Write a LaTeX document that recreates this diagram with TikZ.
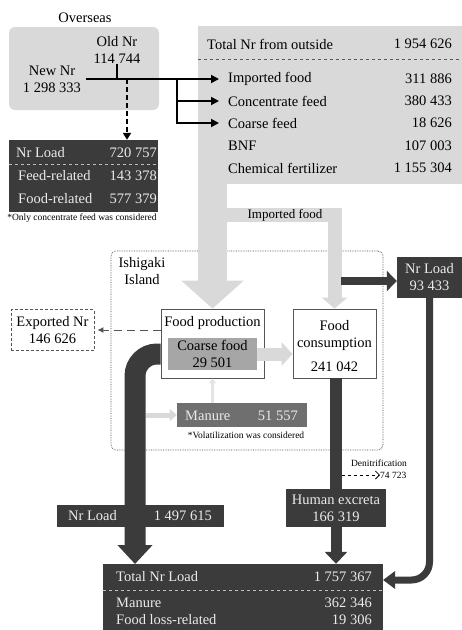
\documentclass[tikz,border=0pt]{standalone}
\usepackage{fontspec}
\setmainfont{Liberation Serif}
\usetikzlibrary{arrows.meta}
\definecolor{boxgray}{HTML}{D9D9D9}
\definecolor{loadgray}{HTML}{3B3B3B}
\definecolor{coarsegray}{HTML}{A6A6A6}
\definecolor{manuregray}{HTML}{6F6F6F}
\definecolor{linegray}{HTML}{555555}
\tikzset{txt/.style = {font=\fontsize{14.5}{17}\selectfont, inner sep=0pt, align=center}}
\tikzset{wtxt/.style = {txt, text=white!92!black}}
\tikzset{note/.style = {font=\fontsize{9.5}{11}\selectfont, inner sep=0pt}}
\tikzset{lbl/.style = {txt, anchor=west}}
\tikzset{val/.style = {txt, anchor=east}}
\tikzset{darkbox/.style = {rectangle, fill=loadgray, inner sep=0pt}}
\tikzset{whitebox/.style = {rectangle, draw=linegray, line width=0.8pt, fill=white, inner sep=0pt}}
\tikzset{divider/.style = {dashed, line width=0.6pt}}
\tikzset{feed/.style = {line width=1.8pt, -{Triangle[length=8pt,width=8pt]}, shorten >=9pt}}
\tikzset{bigflow/.style = {draw=boxgray, line join=miter}}
\tikzset{pipe/.style = {draw=loadgray, line join=miter}}

\begin{document}
\begin{tikzpicture}[x=1pt,y=-1pt]
            \useasboundingbox (0,0) rectangle (462,630);
            \clip (0,0) rectangle (462,630);

            \node[rectangle, minimum width=272pt, minimum height=199pt, rounded corners=5pt, draw=linegray!85!black, densely dotted, line width=0.7pt] (island) at (247,350.5) {};
            \node[txt] (ishigaki) at (142,271.5) {Ishigaki\\Island};

            \node[rectangle, fill=boxgray, rounded corners=6pt, minimum width=150pt, minimum height=83pt] (overseas) at (84,68.5) {};
            \node[txt] (ostitle) at (85,18) {Overseas};
            \node[txt] (oldnr) at (117,50) {Old Nr\\114 744};
            \node[txt] (newnr) at (52,79) {New Nr\\1 298 333};

            \node[rectangle, fill=boxgray, minimum width=264pt, minimum height=158pt] (outside) at (330,105) {};
            \node[lbl] (outtot) at (207,44) {Total Nr from outside};
            \node[val] (outtotval) at (452,44) {1 954 626};
            \draw[divider, draw=linegray] ([yshift=-33pt]outside.north west) -- ([yshift=-33pt]outside.north east);
            \node[lbl] (imp) at (228,79) {Imported food};
            \node[val] (impval) at (452,79) {311 886};
            \node[lbl] (conc) at (228,101) {Concentrate feed};
            \node[val] (concval) at (452,101) {380 433};
            \node[lbl] (coarsef) at (228,123) {Coarse feed};
            \node[val] (coarsefval) at (452,123) {18 626};
            \node[lbl] (bnf) at (228,146) {BNF};
            \node[val] (bnfval) at (452,146) {107 003};
            \node[lbl] (chem) at (228,168) {Chemical fertilizer};
            \node[val] (chemval) at (452,168) {1 155 304};

            \node[darkbox, minimum width=149pt, minimum height=72pt] (load1) at (83.5,176) {};
            \node[wtxt, anchor=west] (load1lbl) at (16,153) {Nr Load};
            \node[wtxt, anchor=east] (load1val) at (157,153) {720 757};
            \draw[divider, draw=white!75!black] ([yshift=-24pt]load1.north west) -- ([yshift=-24pt]load1.north east);
            \node[wtxt, anchor=west] (feedrel) at (18,176) {Feed-related};
            \node[wtxt, anchor=east] (feedrelval) at (157,176) {143 378};
            \node[wtxt, anchor=west] (foodrel) at (18,199) {Food-related};
            \node[wtxt, anchor=east] (foodrelval) at (157,199) {577 379};
            \node[note] (onlynote) at (82,218) {*Only concentrate feed was considered};

            \node[rectangle, draw=linegray, densely dashed, line width=0.8pt, minimum width=83pt, minimum height=41pt, txt] (exported) at (52.5,330) {Exported Nr\\146 626};

            \node[whitebox, minimum width=103pt, minimum height=69pt] (foodprod) at (212.5,343.5) {};
            \node[txt] (fptitle) at (212.5,323) {Food production};
            \node[rectangle, fill=coarsegray, minimum width=89pt, minimum height=32pt, txt] (coarse) at (212.5,354) {Coarse food\\29 501};

            \node[whitebox, minimum width=83pt, minimum height=69pt] (foodcons) at (334.5,343.5) {};
            \node[txt] (fctitle) at (334.5,336) {Food\\consumption};
            \node[txt] (fcval) at (334.5,367) {241 042};

            \node[rectangle, fill=manuregray, minimum width=130pt, minimum height=24pt] (manure) at (242,415) {};
            \node[wtxt, anchor=west] (manurelbl) at (185,416) {Manure};
            \node[wtxt, anchor=east] (manureval) at (298,416) {51 557};
            \node[note] (volnote) at (246,435) {*Volatilization was considered};

            \node[darkbox, minimum width=65pt, minimum height=41pt, wtxt] (load2) at (429.5,277.5) {Nr Load\\93 433};
            \node[darkbox, minimum width=100pt, minimum height=38pt, wtxt] (humex) at (336,508) {Human excreta\\166 319};

            \node[darkbox, minimum width=280pt, minimum height=86pt] (totbox) at (243,607) {};

            \coordinate (split) at (177,79);
            \coordinate (dsplit) at (127,79);
            \coordinate (impband) at (285,215);
            \coordinate (tonr) at (341,281);
            \coordinate (mfrom) at (146,415);
            \coordinate (pipein) at (135,564);
            \coordinate (totin) at (383,580);
            \coordinate (denit) at (342,475);

            \draw[feed, shorten <=5pt] (newnr.east) -- (imp.west);
            \draw[feed] (split) |- (conc.west);
            \draw[feed] (split) |- (coarsef.west);
            \draw[line width=1.8pt] (oldnr.south) -- (oldnr.south |- newnr.east);
            \draw[line width=2pt, dash pattern=on 5pt off 3pt, -{Triangle[length=7pt,width=8pt]}] (dsplit) -- (dsplit |- load1.north);

            \draw[bigflow, line width=29pt, -{Triangle[width=61pt,length=28pt]}] (outside.south -| foodprod.north) -- (foodprod.north);
            \draw[bigflow, line width=14pt, -{Triangle[width=25pt,length=11pt]}] (foodprod.north |- impband) -| (foodcons.north);
            \node[txt, font=\fontsize{13}{15}\selectfont] (implbl) at (impband) {Imported food};
            \draw[bigflow, line width=13pt, -{Triangle[width=23pt,length=11pt]}] (coarse.east) -- (coarse.east -| foodcons.west);
            \draw[draw=boxgray!70!white, line width=3pt, -{Triangle[width=7pt,length=5pt]}] (manure.north -| foodprod.south) -- (foodprod.south);

            \draw[pipe, line width=21pt, rounded corners=22pt, -{Triangle[width=34pt,length=19pt]}] (foodprod.west |- coarse.west) -| (pipein);
            \draw[bigflow, line width=5pt, -{Triangle[width=12pt,length=7pt]}] (mfrom) -- (manure.west);
            \draw[draw=linegray, line width=1pt, dash pattern=on 8pt off 5pt, -{Latex[length=6pt,width=6pt]}, shorten >=3pt] (foodprod.west |- exported.east) -- (exported.east);

            \draw[pipe, line width=8pt, -{Triangle[width=20pt,length=10pt]}] (tonr) -- (tonr -| load2.west);
            \draw[pipe, line width=12pt] (humex.north |- foodcons.south) -- (humex.north);
            \draw[pipe, line width=11pt, -{Triangle[width=22pt,length=12pt]}] (humex.south) -- (humex.south |- totbox.north);
            \draw[pipe, line width=7pt, rounded corners=18pt, -{Triangle[width=17pt,length=12pt]}] (load2.south) |- (totin);

            \node[darkbox, minimum width=167pt, minimum height=22pt] (load3) at (140.5,516) {};
            \node[wtxt, anchor=west] (load3lbl) at (68,516) {Nr Load};
            \node[wtxt, anchor=east] (load3val) at (212,516) {1 497 615};

            \node[note, anchor=west] (denitval) at (380,475) {74 723};
            \node[note] (denitlbl) at (379,463) {Denitrification};
            \draw[line width=0.8pt, dashed, -{Straight Barb[length=4pt,width=8pt]}] (denit) -- (denitval.west);

            \node[wtxt, anchor=west] (totlbl) at (116,577) {Total Nr Load};
            \node[wtxt, anchor=east] (totval) at (372,577) {1 757 367};
            \draw[divider, draw=white!75!black] ([yshift=-26pt]totbox.north west) -- ([yshift=-26pt]totbox.north east);
            \node[wtxt, anchor=west] (totman) at (116,603) {Manure};
            \node[wtxt, anchor=east] (totmanval) at (372,603) {362 346};
            \node[wtxt, anchor=west] (totloss) at (116,620) {Food loss-related};
            \node[wtxt, anchor=east] (totlossval) at (372,620) {19 306};
\end{tikzpicture}
\end{document}
